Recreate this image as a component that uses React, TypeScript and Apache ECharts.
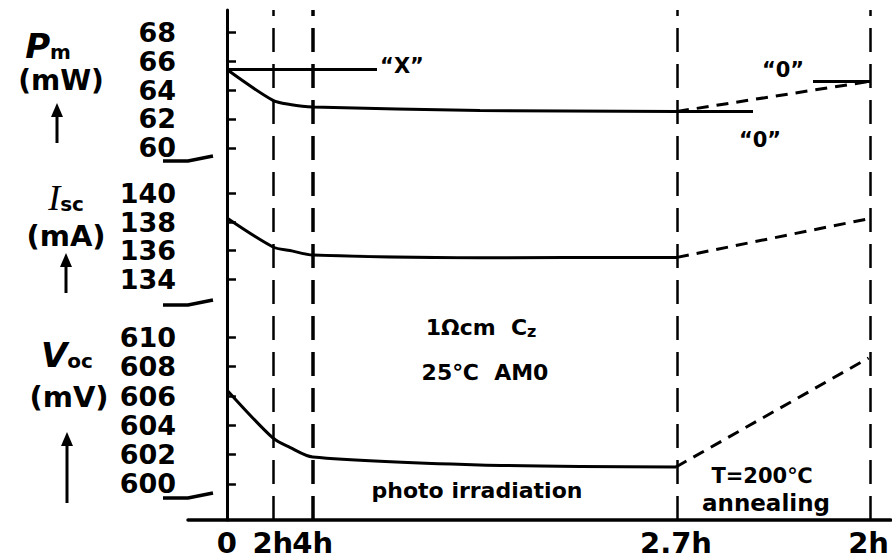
import React, { useEffect, useRef } from "react";
import * as echarts from "echarts";

// Schematic (broken) time axis: positions along the axis, labels shown at them
const xTickPositions = [0, 46, 86, 450, 643];
const xTickLabels = ["0", "2h", "4h", "2.7h", "2h"];
const xMin = -39;
const xMax = 665;

const pmTicks = [60, 62, 64, 66, 68];
const iscTicks = [134, 136, 138, 140];
const vocTicks = [600, 602, 604, 606, 608, 610];

// Pm (mW)
const pmIrradiation = [[0, 65.41], [46, 63.28], [63, 63.0], [86, 62.83], [253, 62.59], [450, 62.52]];
const pmAnnealing = [[450, 62.52], [643, 64.6]];
const pmRefX = [[0, 65.41], [150, 65.41]];
const pmRefZeroLow = [[450, 62.52], [526, 62.52]];
const pmRefZeroHigh = [[586, 64.58], [643, 64.58]];

// Isc (mA)
const iscIrradiation = [[0, 138.28], [46, 136.25], [63, 136.0], [86, 135.68], [253, 135.5], [450, 135.52]];
const iscAnnealing = [[450, 135.52], [643, 138.25]];

// Voc (mV)
const vocIrradiation = [[0, 606.42], [46, 603.14], [63, 602.5], [86, 601.84], [253, 601.3], [450, 601.16]];
const vocAnnealing = [[450, 601.16], [643, 608.6]];

const FONT = "DejaVu Sans";

export default function App() {
  const ref = useRef<HTMLDivElement>(null);

  useEffect(() => {
    if (!ref.current) return;
    const chart = echarts.init(ref.current, null, { renderer: "svg" });

    const hiddenX = (gridIndex: number) => ({
      type: "value",
      gridIndex,
      min: xMin,
      max: xMax,
      show: false,
    });

    const yAxisFor = (gridIndex: number, min: number, max: number, ticks: number[]) => ({
      type: "value",
      gridIndex,
      min,
      max,
      splitLine: { show: false },
      axisLine: { show: true, lineStyle: { color: "#000", width: 3 } },
      axisTick: {
        show: true,
        inside: true,
        length: 9,
        customValues: ticks,
        lineStyle: { color: "#000", width: 2.5 },
      },
      axisLabel: {
        customValues: ticks,
        color: "#000",
        fontFamily: FONT,
        fontWeight: "bold",
        fontSize: 27,
        lineHeight: 24,
        margin: 12,
      },
    });

    const solid = (name: string, x: number, data: number[][], smooth = 0) => ({
      name,
      type: "line",
      xAxisIndex: x,
      yAxisIndex: x,
      data,
      smooth,
      symbol: "none",
      lineStyle: { color: "#000", width: 3 },
    });
    const dashed = (name: string, x: number, data: number[][]) => ({
      name,
      type: "line",
      xAxisIndex: x,
      yAxisIndex: x,
      data,
      symbol: "none",
      lineStyle: { color: "#000", width: 3, type: [12, 8] },
    });

    const txt = (x: number, y: number, text: string, size: number, extra: any = {}) => ({
      type: "text",
      x,
      y,
      style: {
        text,
        fill: "#000",
        font: `bold ${size}px "${FONT}"`,
        textAlign: "center",
        textVerticalAlign: "middle",
        ...extra,
      },
    });

    const arrow = (x: number, y1: number, y2: number) => [
      { type: "line", shape: { x1: x, y1: y1, x2: x, y2: y2 + 8 }, style: { stroke: "#000", lineWidth: 3 } },
      { type: "polygon", shape: { points: [[x - 6, y2 + 14], [x + 6, y2 + 14], [x, y2]] }, style: { fill: "#000" } },
    ];

    const brk = (y: number) => ({
      type: "polyline",
      shape: { points: [[163, y + 1], [188, y + 1], [213, y - 4]] },
      style: { stroke: "#000", lineWidth: 3.5, fill: "none" },
    });

    chart.setOption({
      animation: false,
      grid: [
        { left: 188, right: 0, top: 10, height: 150 },
        { left: 188, right: 0, top: 160, height: 143 },
        { left: 188, right: 0, top: 303, height: 217 },
        { left: 188, right: 0, top: 10, height: 510 },
      ],
      xAxis: [
        hiddenX(0),
        hiddenX(1),
        {
          type: "value",
          gridIndex: 2,
          min: xMin,
          max: xMax,
          splitLine: { show: false },
          axisLine: { show: true, lineStyle: { color: "#000", width: 3.5 } },
          axisTick: { show: false },
          axisLabel: {
            customValues: xTickPositions,
            hideOverlap: false,
            formatter: (v: number) => {
              const i = xTickPositions.indexOf(v);
              return i >= 0 ? xTickLabels[i] : "";
            },
            color: "#000",
            fontFamily: FONT,
            fontWeight: "bold",
            fontSize: 29,
            margin: 8,
          },
        },
        hiddenX(3),
      ],
      yAxis: [
        yAxisFor(0, 59.17, 69.52, pmTicks),
        yAxisFor(1, 132.32, 142.35, iscTicks),
        yAxisFor(2, 597.54, 612.35, vocTicks),
        { type: "value", gridIndex: 3, min: 0, max: 1, show: false },
      ],
      series: [
        {
          name: "guides",
          type: "line",
          xAxisIndex: 3,
          yAxisIndex: 3,
          data: [],
          markLine: {
            silent: true,
            symbol: "none",
            label: { show: false },
            lineStyle: { color: "#000", width: 2.5, type: [24, 12] },
            data: xTickPositions.map((v, i) => ({
              xAxis: v,
              lineStyle: { color: "#000", width: i === 2 ? 3.5 : 2.5, type: [24, 12] },
            })),
          },
        },
        solid("Pm irradiation", 0, pmIrradiation, 0.3),
        dashed("Pm annealing", 0, pmAnnealing),
        solid("Pm X", 0, pmRefX),
        solid("Pm 0 low", 0, pmRefZeroLow),
        solid("Pm 0 high", 0, pmRefZeroHigh),
        solid("Isc irradiation", 1, iscIrradiation, 0.3),
        dashed("Isc annealing", 1, iscAnnealing),
        solid("Voc irradiation", 2, vocIrradiation, 0.3),
        dashed("Voc annealing", 2, vocAnnealing),
      ],
      graphic: [
        brk(160),
        brk(304),
        brk(497),
        // axis names
        {
          type: "text",
          x: 48,
          y: 46,
          style: {
            text: "{p|P}{s|m}",
            textAlign: "center",
            textVerticalAlign: "middle",
            rich: {
              p: { font: `italic bold 34px "${FONT}"`, fill: "#000" },
              s: { font: `bold 20px "${FONT}"`, fill: "#000", padding: [12, 0, 0, 0] },
            },
          },
        },
        txt(61, 80, "(mW)", 28),
        ...arrow(57, 143, 103),
        {
          type: "text",
          x: 66,
          y: 198,
          style: {
            text: "{p|I}{s|sc}",
            textAlign: "center",
            textVerticalAlign: "middle",
            rich: {
              p: { font: `italic 36px "Liberation Serif"`, fill: "#000" },
              s: { font: `bold 20px "${FONT}"`, fill: "#000", padding: [12, 0, 0, 0] },
            },
          },
        },
        txt(66, 236, "(mA)", 29),
        ...arrow(66, 293, 253),
        {
          type: "text",
          x: 67,
          y: 355,
          style: {
            text: "{p|V}{s|oc}",
            textAlign: "center",
            textVerticalAlign: "middle",
            rich: {
              p: { font: `italic bold 34px "${FONT}"`, fill: "#000" },
              s: { font: `bold 20px "${FONT}"`, fill: "#000", padding: [12, 0, 0, 0] },
            },
          },
        },
        txt(69, 397, "(mV)", 29),
        ...arrow(67, 503, 432),
        // annotations
        txt(402, 66, "\u201CX\u201D", 21),
        txt(783, 70, "\u201C0\u201D", 21),
        txt(760, 140, "\u201C0\u201D", 21),
        {
          type: "text",
          x: 481,
          y: 327,
          style: {
            text: "{a|1\u03A9cm  C}{s|z}",
            textAlign: "center",
            textVerticalAlign: "middle",
            rich: {
              a: { font: `bold 22px "${FONT}"`, fill: "#000" },
              s: { font: `bold 16px "${FONT}"`, fill: "#000", padding: [9, 0, 0, 0] },
            },
          },
        },
        txt(485, 372, "25\u2103  AM0", 22),
        txt(477, 490, "photo irradiation", 22),
        txt(762, 476, "T=200\u2103", 21),
        txt(766, 503, "annealing", 23),
      ],
    });

    return () => chart.dispose();
  }, []);

  return (
    <div
      ref={ref}
      style={{ position: "fixed", left: 0, top: 0, width: 892, height: 558, background: "#fff" }}
    />
  );
}
